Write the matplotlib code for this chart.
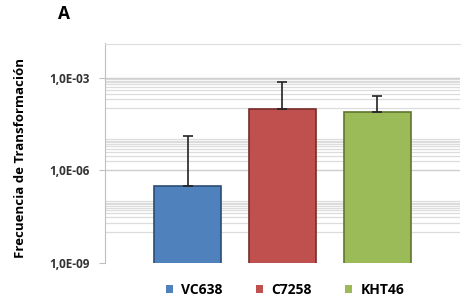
import numpy as np
import matplotlib
matplotlib.use("Agg")
import matplotlib.pyplot as plt
from matplotlib.patches import Patch

# Values
strains = ["VC638", "C7258", "KHT46"]
freq = [3.1e-7, 9.3e-5, 7.4e-5]
err_up = [1.25e-5, 6.0e-4, 1.8e-4]
bar_colors = ["#4F81BD", "#C0504D", "#9BBB59"]
edge_colors = ["#2C4D75", "#772C2A", "#5F7530"]
major_ticks = [1e-9, 1e-6, 1e-3]
tick_labels = ["1,0E-09", "1,0E-06", "1,0E-03"]

plt.rcParams["font.family"] = ["Open Sans", "DejaVu Sans"]

fig = plt.figure(figsize=(4.74, 3.05), dpi=100)
ax = fig.add_axes([105 / 474, 1 - 263 / 305, 355 / 474, 219.5 / 305])

ax.set_yscale("log")
ax.set_ylim(1e-9, 1.26e-2)
ax.set_xlim(-0.87, 2.87)

# light gray grid lines, dense near the top of each band
for e in (-8, -6, -4):
    for k in range(1, 11):
        ax.axhline(k * 10.0 ** e, color="#dcdcdc", lw=0.9, zorder=0)
for v in major_ticks[1:]:
    ax.axhline(v, color="#cfcfcf", lw=0.9, zorder=0)

x = np.arange(len(strains))
ax.bar(x, freq, width=0.7, color=bar_colors, edgecolor=edge_colors,
       linewidth=1.2, zorder=2)
ax.errorbar(x, freq, yerr=[np.zeros(3), err_up], fmt="none", ecolor="#222222",
            elinewidth=1.2, capsize=3.5, capthick=1.2, zorder=3)

ax.set_yticks(major_ticks)
ax.set_yticklabels(tick_labels, fontsize=8.5, fontweight="bold", color="#333333")
ax.yaxis.set_minor_locator(matplotlib.ticker.NullLocator())
ax.tick_params(axis="y", length=4, color="#bfbfbf", pad=7)
ax.set_xticks([])

for side in ("right", "bottom"):
    ax.spines[side].set_visible(False)
ax.spines["left"].set_color("#bfbfbf")
ax.spines["top"].set_color("#dcdcdc")

ax.set_ylabel("Frecuencia de Transformación", fontsize=9.5, fontweight="bold")
ax.yaxis.set_label_coords(-(105 - 27) / 355, (263 - 158) / 219.5)
fig.text(58 / 474, 1 - 14 / 305, "A", fontsize=12.5, fontweight="bold",
         ha="left", va="center")

handles = [Patch(facecolor=c, edgecolor="none", label=s)
           for c, s in zip(bar_colors, strains)]
fig.legend(handles=handles, loc="center", bbox_to_anchor=(285 / 474, 1 - 290 / 305),
           ncol=3, frameon=False, handlelength=0.5, handleheight=0.5,
           handletextpad=0.6, columnspacing=2.4,
           prop={"weight": "bold", "size": 10})

fig.savefig("out.png", dpi=100)
